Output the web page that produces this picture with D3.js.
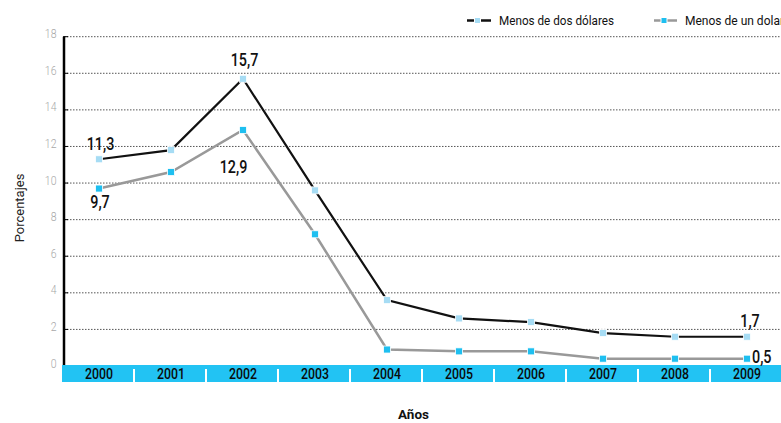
<!DOCTYPE html>
<html><head><meta charset="utf-8">
<script src="https://cdn.jsdelivr.net/npm/d3@7"></script>
<style>body{margin:0;background:#fff}svg{display:block}</style>
</head><body>
<svg id="c" width="781" height="423"></svg>
<script>
const years = ["2000","2001","2002","2003","2004","2005","2006","2007","2008","2009"];
const dosDolares = [11.3, 11.8, 15.7, 9.6, 3.6, 2.6, 2.4, 1.8, 1.6, 1.6];
const unDolar = [9.7, 10.6, 12.9, 7.2, 0.9, 0.8, 0.8, 0.4, 0.4, 0.4];
const yTicks = [0, 2, 4, 6, 8, 10, 12, 14, 16, 18];
const seriesNames = ["Menos de dos dólares", "Menos de un dolar"];
const labelsDos = [[0,"11,3"],[2,"15,7"],[9,"1,7"]];
const labelsUn = [[0,"9,7"],[2,"12,9"],[9,"0,5"]];

const font = "Roboto, 'Liberation Sans', sans-serif";
const svg = d3.select("#c");
const x = d3.scaleBand().domain(years).range([62, 782]);
const y = d3.scaleLinear().domain([0, 18]).range([366, 36.7]);
const cx = d => x(d) + x.bandwidth()/2 + 1;

// condensed text helper
function ctext(px, py, t, size, sx, anchor, opts={}){
  const el = svg.append("text")
    .attr("transform", `translate(${px},${py}) scale(${sx},1)`)
    .attr("text-anchor", anchor).attr("font-family", font).attr("font-size", size)
    .attr("fill", opts.fill || "#111").attr("font-weight", opts.weight || "normal").text(t);
  return el;
}

// gridlines
svg.append("g").selectAll("line").data(yTicks.filter(t=>t>0)).join("line")
  .attr("x1", 64).attr("x2", 781).attr("y1", d=>y(d)).attr("y2", d=>y(d))
  .attr("stroke", "#555").attr("stroke-width", 1).attr("stroke-dasharray", "1.5,1.5");
svg.append("g").selectAll("line").data(yTicks.filter(t=>t>0)).join("line")
  .attr("x1", 63).attr("x2", 68).attr("y1", d=>y(d)).attr("y2", d=>y(d))
  .attr("stroke", "#000").attr("stroke-width", 1);

// y tick labels
yTicks.forEach(d => ctext(56.5, y(d)+1.5, d, 13.5, 0.78, "end", {fill:"#a8a8a8", weight:300}));

// y axis line
svg.append("line").attr("x1", 64).attr("x2", 64).attr("y1", y(18)).attr("y2", y(0))
  .attr("stroke", "#000").attr("stroke-width", 2.5);

// band
svg.append("rect").attr("x", 62).attr("y", 365).attr("width", 720).attr("height", 17).attr("fill", "#22c3f3");
svg.append("g").selectAll("line").data(years.slice(1)).join("line")
  .attr("x1", d=>x(d)).attr("x2", d=>x(d)).attr("y1", 369).attr("y2", 382)
  .attr("stroke", "#fff").attr("stroke-width", 2);
years.forEach(d => ctext(x(d)+x.bandwidth()/2 + 1, 379, d, 14, 0.88, "middle", {weight:500, fill:"#0a0a0a"}));

// lines
const line = d3.line().x((d,i)=>cx(years[i])).y(d=>y(d));
svg.append("path").datum(unDolar).attr("d", line).attr("fill","none").attr("stroke","#999").attr("stroke-width",2.5);
svg.append("path").datum(dosDolares).attr("d", line).attr("fill","none").attr("stroke","#111").attr("stroke-width",2.2);

// markers
function markers(data, color){
  svg.append("g").selectAll("rect").data(data).join("rect")
    .attr("x",(d,i)=>cx(years[i])-3.5).attr("y",d=>y(d)-3.5).attr("width",7).attr("height",7)
    .attr("fill",color).attr("stroke","#fff").attr("stroke-width",0.8);
}
markers(unDolar, "#1ebff0");
markers(dosDolares, "#a6dcf4");

// value labels
const lab = (i, t, dx, py, anchor) => ctext(cx(years[i]) + dx, py, t, 17.5, 0.82, anchor, {weight:500});
lab(labelsDos[0][0], labelsDos[0][1], 1.5, 150, "middle");
lab(labelsDos[1][0], labelsDos[1][1], 1.5, 66, "middle");
lab(labelsDos[2][0], labelsDos[2][1], 3, 327, "middle");
lab(labelsUn[0][0], labelsUn[0][1], 1, 208, "middle");
lab(labelsUn[1][0], labelsUn[1][1], -9.5, 172.5, "middle");
lab(labelsUn[2][0], labelsUn[2][1], 5, 363, "start");

// axis titles
svg.append("text").attr("transform","translate(24,208) rotate(-90)").attr("text-anchor","middle")
  .attr("font-family", font).attr("font-size", 13).attr("fill","#222").text("Porcentajes");
svg.append("text").attr("x", 413.5).attr("y", 419).attr("text-anchor","middle")
  .attr("font-family", font).attr("font-size", 13.5).attr("font-weight","bold").attr("fill","#111").text("Años");

// legend
const leg = [
  {name: seriesNames[0], x0: 467, x1: 491, mk: 477.5, line: "#111", marker: "#a6dcf4", tx: 499, w: 115},
  {name: seriesNames[1], x0: 654, x1: 677, mk: 664, line: "#999", marker: "#1ebff0", tx: 685, w: 99}
];
leg.forEach(l=>{
  svg.append("line").attr("x1",l.x0).attr("x2",l.x1).attr("y1",20.5).attr("y2",20.5)
    .attr("stroke",l.line).attr("stroke-width",2.5);
  svg.append("rect").attr("x",l.mk-3).attr("y",17.5).attr("width",6).attr("height",6)
    .attr("fill",l.marker).attr("stroke","#fff").attr("stroke-width",1);
  svg.append("text").attr("x",l.tx).attr("y",25).attr("font-family",font).attr("font-size",13.5)
    .attr("textLength", l.w).attr("lengthAdjust","spacingAndGlyphs")
    .attr("fill","#111").text(l.name);
});
</script>
</body></html>
